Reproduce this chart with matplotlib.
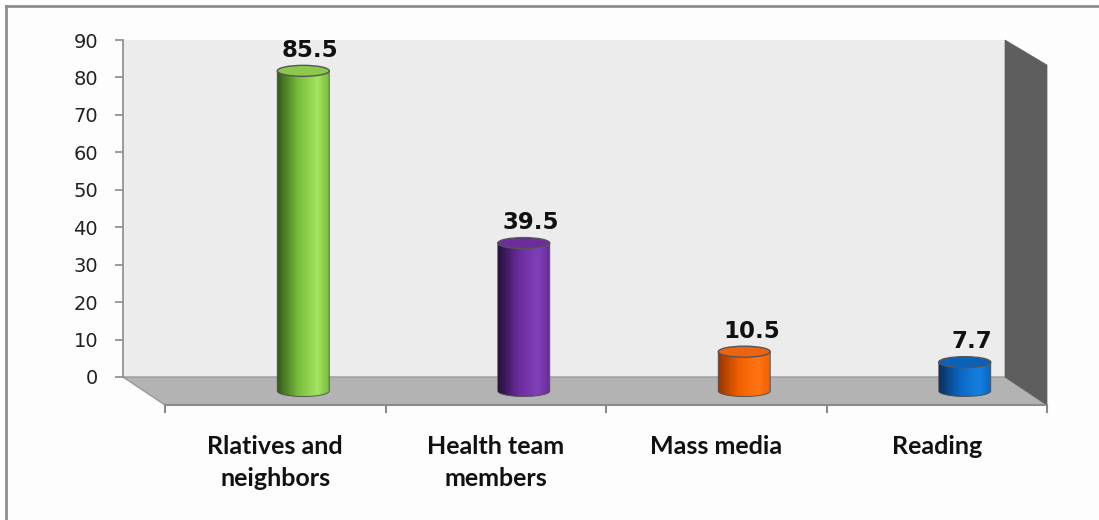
import numpy as np
import matplotlib.pyplot as plt
import matplotlib.transforms as mtransforms
from matplotlib.patches import Polygon, Ellipse, Rectangle, PathPatch
from matplotlib.path import Path
from matplotlib.lines import Line2D
from matplotlib.colors import LinearSegmentedColormap

# ---- data ----
categories = ['Rlatives and\nneighbors', 'Health team\nmembers', 'Mass media', 'Reading']
values = [85.5, 39.5, 10.5, 7.7]
y_ticks = [0, 10, 20, 30, 40, 50, 60, 70, 80, 90]

# colours of each cylinder: shadow side, lit side, top cap
dark_cols = ['#355a1a', '#24103a', '#9a3600', '#08305e']
mid_cols = ['#78bc3c', '#6a2c9c', '#f06000', '#0a66c2']
light_cols = ['#a2e45e', '#8040b8', '#ff7414', '#1680e0']
top_cols = ['#8cc84c', '#6c2c9c', '#ec6410', '#0a62b8']

W, H = 1099, 520
fig = plt.figure(figsize=(W / 100, H / 100), dpi=100)
fig.patch.set_facecolor('#fdfdfd')

# back wall = main axes
ax = fig.add_axes([123 / W, (H - 377) / H, 882 / W, 337 / H])
ax.set_xlim(-0.5, 3.5)
ax.set_ylim(0, 90)
ax.set_facecolor('#ececec')
for s in ['top', 'right', 'bottom']:
    ax.spines[s].set_visible(False)
ax.spines['left'].set_color('#8a8a8a')
ax.spines['left'].set_linewidth(1.2)
ax.set_xticks([])
ax.set_yticks(y_ticks)
ax.tick_params(axis='y', direction='out', length=6, width=1.2, color='#8a8a8a',
               pad=12, labelsize=14, labelcolor='#222222')

# depth of the 3d box (axes fractions)
dx = 42 / 882
dy_bot = -28 / 337
dy_top = -25 / 337

floor = Polygon([(0, 0), (1, 0), (1 + dx, dy_bot), (dx, dy_bot)], closed=True,
                transform=ax.transAxes, clip_on=False, fc='#b3b3b3', ec='#9a9a9a',
                lw=1.0, zorder=1)
ax.add_patch(floor)
side = Polygon([(1, 0), (1, 1), (1 + dx, 1 + dy_top), (1 + dx, dy_bot)], closed=True,
               transform=ax.transAxes, clip_on=False, fc='#5e5e5e', ec='#5e5e5e',
               lw=0.5, zorder=1)
ax.add_patch(side)

# front axis line with ticks
ax.add_line(Line2D([dx, 1 + dx], [dy_bot, dy_bot], transform=ax.transAxes,
                   color='#8a8a8a', lw=1.5, clip_on=False, zorder=2))
tick_len = 7 / 337
for k in range(len(categories) + 1):
    xt = dx + k / len(categories)
    ax.add_line(Line2D([xt, xt], [dy_bot, dy_bot - tick_len], transform=ax.transAxes,
                       color='#8a8a8a', lw=1.5, clip_on=False, zorder=2))

# cylinders sit mid-depth on the floor
cyl_off = ax.transData + mtransforms.ScaledTranslation(70 / 100, -14 / 100, fig.dpi_scale_trans)
px_x = 882 / 4.0          # pixels per category
px_y = 337 / 90.0         # pixels per unit
cw = 52 / px_x            # cylinder width (data units)
eh = 11 / px_y            # ellipse height (data units)

for i, v in enumerate(values):
    x0, x1 = i - cw / 2, i + cw / 2
    t = np.linspace(np.pi, 2 * np.pi, 40)
    arc = np.column_stack([i + cw / 2 * np.cos(t), eh / 2 * np.sin(t)])
    verts = np.vstack([[x0, v], [x0, 0], arc, [x1, 0], [x1, v], [x0, v]])
    codes = [Path.MOVETO] + [Path.LINETO] * (len(verts) - 2) + [Path.CLOSEPOLY]
    body_path = Path(verts, codes)
    clip = PathPatch(body_path, transform=cyl_off)

    cmap = LinearSegmentedColormap.from_list(
        'c%d' % i, [(0, dark_cols[i]), (0.4, mid_cols[i]), (0.78, light_cols[i]), (1, mid_cols[i])])
    n = 60
    for k in range(n):
        r = Rectangle((x0 + k * cw / n, -eh), cw / n * 1.05, v + eh * 1.5,
                      transform=cyl_off, fc=cmap(k / (n - 1)), ec='none', zorder=3)
        r.set_clip_path(clip)
        ax.add_patch(r)
        r.set_clip_box(None)
        r.set_clip_path(clip)
    ax.add_patch(PathPatch(body_path, transform=cyl_off, fc='none', ec='#4a4a4a',
                           lw=0.6, clip_on=False, zorder=4))
    ax.add_patch(Ellipse((i, v), cw, eh, transform=cyl_off, fc=top_cols[i],
                         ec='#555555', lw=1.0, clip_on=False, zorder=5))
    ax.text(i + 7 / px_x, v + eh / 2 + 2.2, f'{v}', transform=cyl_off,
            ha='center', va='baseline', fontsize=16.5, fontweight='bold',
            color='#111111', zorder=6, clip_on=False)

# category labels, on the front plane
lab_tr = mtransforms.blended_transform_factory(
    ax.transData + mtransforms.ScaledTranslation(42 / 100, 0, fig.dpi_scale_trans),
    ax.transAxes)
for i, c in enumerate(categories):
    ax.text(i, (377 - 435) / 337, c, transform=lab_tr, ha='center', va='top',
            fontsize=18, fontweight='bold', family=['Lato', 'DejaVu Sans'],
            color='#111111', linespacing=1.5, clip_on=False)

# outer frame (left and top edges)
fig.add_artist(Line2D([6 / W, 6 / W], [0, 1 - 6 / H], transform=fig.transFigure,
                      color='#8c8c8c', lw=2))
fig.add_artist(Line2D([6 / W, 1], [1 - 6 / H, 1 - 6 / H], transform=fig.transFigure,
                      color='#8c8c8c', lw=2))

fig.savefig('out.png', dpi=100, facecolor=fig.get_facecolor())
